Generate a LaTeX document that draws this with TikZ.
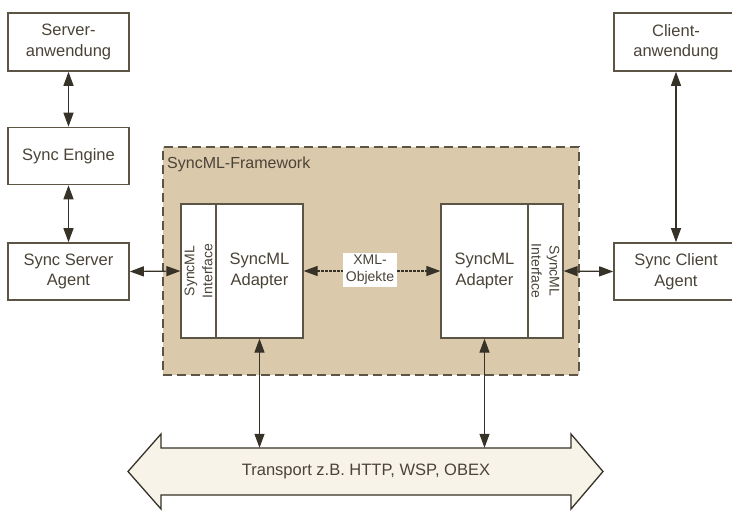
\documentclass[tikz,border=0pt]{standalone}
\usepackage{fontspec}
\setmainfont{Liberation Sans}
\usetikzlibrary{arrows.meta}
\definecolor{txt}{RGB}{74,68,56}
\definecolor{bdr}{RGB}{92,84,68}
\definecolor{lin}{RGB}{55,50,40}
\definecolor{frame}{RGB}{219,201,172}
\definecolor{trfill}{RGB}{248,243,232}
\tikzset{
  box/.style={draw=bdr, line width=1.6pt, fill=white, text=txt, align=center,
    inner sep=0pt, font=\fontsize{16.5}{20.5}\selectfont},
  iface/.style={draw=bdr, line width=1.2pt, fill=white, inner sep=0pt},
  ifacetext/.style={text=txt, align=center, inner sep=0pt, font=\fontsize{14}{18}\selectfont},
  conn/.style={draw=lin, line width=1.2pt, {Triangle[length=14pt,width=10pt]}-{Triangle[length=14pt,width=10pt]}},
}
\begin{document}
\begin{tikzpicture}[x=1pt,y=-1pt]
\useasboundingbox (0,0) rectangle (732,511);
\fill[white] (0,0) rectangle (732,511);
% framework
\node[draw=bdr, line width=1.5pt, dash pattern=on 9pt off 5pt, fill=frame,
  minimum width=416pt, minimum height=228pt, inner sep=0pt] (fw) at (371,261) {};
\node[anchor=west, text=txt, font=\fontsize{16}{20}\selectfont, inner sep=0pt] (fwl) at (167,164) {SyncML-Framework};
% left server column
\node[box, minimum width=121pt, minimum height=58pt] (sa) at (68.5,42) {Server-\\anwendung};
\node[box, minimum width=121pt, minimum height=57pt] (se) at (68.5,156) {Sync Engine};
\node[box, minimum width=121pt, minimum height=57pt] (ssa) at (68.5,271.5) {Sync Server\\Agent};
% client column
\node[box, minimum width=124pt, minimum height=58pt] (ca) at (676,42) {Client-\\anwendung};
\node[box, minimum width=124pt, minimum height=57pt] (sca) at (676,271.5) {Sync Client\\Agent};
% adapters
\node[iface, minimum width=35pt, minimum height=134pt] (ifl) at (198.5,271) {};
\node[ifacetext, rotate=90] (ifltext) at (ifl.center) {SyncML\\Interface};
\node[box, line width=1.2pt, minimum width=87pt, minimum height=134pt] (adl) at (259.5,271) {SyncML\\Adapter};
\node[box, line width=1.2pt, minimum width=87pt, minimum height=134pt] (adr) at (484.5,271) {SyncML\\Adapter};
\node[iface, minimum width=35pt, minimum height=134pt] (ifr) at (545.5,271) {};
\node[ifacetext, rotate=-90] (ifrtext) at (ifr.center) {SyncML\\Interface};
% transport
\draw[draw=lin, line width=1.3pt, fill=trfill, line join=miter]
  (128,471.5) -- (161,434) -- (161,448) -- (571,448) -- (571,434) -- (603,471.5)
  -- (571,509) -- (571,495) -- (161,495) -- (161,509) -- cycle;
\node[inner sep=0pt, minimum width=410pt, minimum height=47pt, text=txt,
  font=\fontsize{16.5}{20}\selectfont] (tr) at (366,471.5) {Transport z.B. HTTP, WSP, OBEX};
% connectors
\draw[conn] (sa.south) -- (se.north);
\draw[conn] (se.south) -- (ssa.north);
\draw[conn] (ssa.east) -- (ifl.west);
\draw[conn] (ifr.east) -- (sca.west);
\draw[conn] (ca.south) -- (sca.north);
\draw[conn] (adl.south) -- (adl.south |- tr.north);
\draw[conn] (adr.south) -- (adr.south |- tr.north);
\draw[conn, dash pattern=on 2.5pt off 1.5pt] (adl.east) -- (adr.west);
\node[fill=white, text=txt, align=center, inner sep=2.5pt,
  font=\fontsize{14}{17}\selectfont] (xml) at (370,270) {XML-\\Objekte};
\end{tikzpicture}
\end{document}
